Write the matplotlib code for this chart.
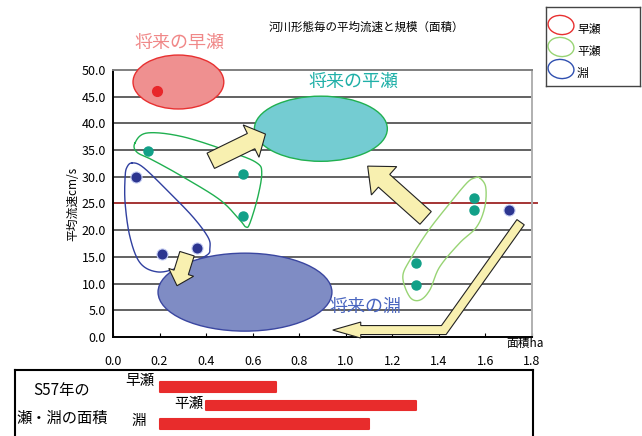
import numpy as np
import matplotlib
matplotlib.use('Agg')
import matplotlib.pyplot as plt
from matplotlib.patches import Ellipse, Polygon

plt.rcParams['font.family'] = ['Noto Sans CJK JP', 'DejaVu Sans']

# measured points: area (ha) vs mean velocity (cm/s)
hayase_x = [0.19]
hayase_y = [46.0]
hirase_x = [0.15, 0.56, 0.56, 1.30, 1.30, 1.55, 1.55]
hirase_y = [34.9, 30.6, 22.7, 13.9, 9.8, 26.0, 23.7]
fuchi_x = [0.10, 0.21, 0.36, 1.70]
fuchi_y = [30.0, 15.5, 16.7, 23.8]

# S57 area ranges (ha)
s57_labels = ['早瀬', '平瀬', '淵']
s57_start = [0.2, 0.4, 0.2]
s57_end = [0.7, 1.3, 1.1]

yticks = [0, 5, 10, 15, 20, 25, 30, 35, 40, 45, 50]
xticks = [0.0, 0.2, 0.4, 0.6, 0.8, 1.0, 1.2, 1.4, 1.6, 1.8]

# future target zones: (x, y, width, height) in data units
future_hayase = (0.281, 47.75, 0.39, 10.1)
future_hirase = (0.893, 39.0, 0.571, 12.2)
future_fuchi = (0.567, 8.4, 0.747, 14.6)

# hand-drawn outlines around the groups
loop_hirase_left = ([0.094, 0.146, 0.300, 0.515, 0.618, 0.639, 0.622, 0.588, 0.571, 0.545, 0.459, 0.300, 0.172, 0.103],
                    [36.3, 38.2, 37.5, 34.5, 32.6, 30.7, 26.2, 21.3, 20.6, 21.9, 25.7, 30.0, 33.1, 34.6])
loop_fuchi = ([0.082, 0.129, 0.232, 0.343, 0.408, 0.416, 0.399, 0.275, 0.189, 0.116, 0.073, 0.052, 0.052, 0.060],
              [32.6, 31.8, 27.5, 22.5, 18.7, 16.7, 15.2, 12.9, 12.2, 13.9, 18.7, 25.1, 30.0, 31.8])
loop_hirase_right = ([1.575, 1.601, 1.597, 1.562, 1.489, 1.403, 1.361, 1.318, 1.275, 1.245, 1.275, 1.348, 1.433, 1.519, 1.554],
                     [29.8, 28.1, 24.3, 20.6, 17.6, 13.1, 8.8, 6.9, 7.5, 11.2, 14.4, 19.5, 24.3, 28.8, 29.8])

# arrows: path in data units, shaft width / head width / head length in px
arrows = [
    ([(0.42, 33.0), (0.655, 38.0)], 17, 36, 16),
    ([(1.343, 22.3), (1.094, 32.0)], 17, 38, 22),
    ([(0.318, 15.6), (0.275, 9.6)], 15, 26, 14),
    ([(1.751, 21.5), (1.421, 1.3), (0.944, 1.3)], 9, 16, 28),
]


def closed_curve(xs, ys, n=20):
    pts = np.column_stack([xs, ys])
    m = len(pts)
    t = np.linspace(0, 1, n, endpoint=False)[:, None]
    out = []
    for i in range(m):
        p0, p1, p2, p3 = pts[(i - 1) % m], pts[i], pts[(i + 1) % m], pts[(i + 2) % m]
        out.append(0.5 * (2 * p1 + (-p0 + p2) * t + (2 * p0 - 5 * p1 + 4 * p2 - p3) * t ** 2
                          + (-p0 + 3 * p1 - 3 * p2 + p3) * t ** 3))
    out = np.vstack(out)
    return np.vstack([out, out[:1]])


def fat_arrow(ax, pts, shaft, head_w, head_l, **kw):
    P = ax.transData.transform(np.array(pts, dtype=float))
    u = P[-1] - P[-2]
    u = u / np.linalg.norm(u)
    base = P[-1] - u * head_l
    line = np.vstack([P[:-1], base])
    normals = []
    for i in range(len(line)):
        segs = []
        if i > 0:
            d = line[i] - line[i - 1]
            segs.append(np.array([-d[1], d[0]]) / np.linalg.norm(d))
        if i < len(line) - 1:
            d = line[i + 1] - line[i]
            segs.append(np.array([-d[1], d[0]]) / np.linalg.norm(d))
        if len(segs) == 2:
            nv = (segs[0] + segs[1]) / (1 + segs[0] @ segs[1])
        else:
            nv = segs[0]
        normals.append(nv)
    normals = np.array(normals)
    left = line + normals * shaft / 2
    right = line - normals * shaft / 2
    nl = np.array([-u[1], u[0]])
    head = [base + nl * head_w / 2, P[-1], base - nl * head_w / 2]
    poly = np.vstack([left, head, right[::-1]])
    poly = ax.transData.inverted().transform(poly)
    ax.add_patch(Polygon(poly, closed=True, clip_on=False, **kw))


fig = plt.figure(figsize=(6.42, 4.36), dpi=100)
ax = fig.add_axes([113 / 642, 99 / 436, 419 / 642, 267 / 436])
ax.set_xlim(0, 1.8)
ax.set_ylim(0, 50)

for y in yticks[1:-1]:
    ax.axhline(y, color='#555555', lw=1.3, zorder=1)
ax.axhline(25, xmax=1.012, color='#a83838', lw=1.4, zorder=2, clip_on=False)

ax.spines['left'].set_color('black')
ax.spines['bottom'].set_color('black')
ax.spines['top'].set_color('#808080')
ax.spines['right'].set_color('#b0b0b0')
for s in ax.spines.values():
    s.set_linewidth(1.4)

ax.set_yticks(yticks)
ax.set_yticklabels([f'{v:.1f}' for v in yticks], fontsize=9)
ax.set_xticks(xticks)
ax.set_xticklabels([f'{v:.1f}' for v in xticks], fontsize=9)
ax.tick_params(axis='x', direction='in', length=3, pad=13)
ax.tick_params(axis='y', direction='in', length=0, pad=5)

ax.set_ylabel('平均流速cm/s', fontsize=8.5, labelpad=2)
ax.text(1.77, -1.2, '面積ha', fontsize=8.5, ha='center', va='center', clip_on=False)

# future zones
for (cx, cy, w, h), fc, ec in [(future_hayase, '#ef9090', '#e83030'),
                               (future_hirase, '#74ccd2', '#20b050'),
                               (future_fuchi, '#7f8cc4', '#3a46a0')]:
    ax.add_patch(Ellipse((cx, cy), w, h, facecolor=fc, edgecolor=ec, lw=1.0,
                         zorder=3, clip_on=False))

ax.text(0.285, 55.0, '将来の早瀬', color='#f08888', fontsize=13, ha='center', va='center', clip_on=False)
ax.text(1.035, 47.7, '将来の平瀬', color='#20b0a8', fontsize=13, ha='center', va='center')
ax.text(1.085, 5.7, '将来の淵', color='#4a66c0', fontsize=13, ha='center', va='center')

# group outlines
for (lx, ly), col in [(loop_hirase_left, '#20b050'), (loop_fuchi, '#3040a0'),
                      (loop_hirase_right, '#98d474')]:
    c = closed_curve(lx, ly)
    ax.plot(c[:, 0], c[:, 1], color=col, lw=1.0, zorder=2.5)

for pts, sw, hw, hl in arrows:
    fat_arrow(ax, pts, sw, hw, hl, facecolor='#f8f0b0', edgecolor='#222222', lw=0.8, zorder=4)

ax.plot(hayase_x, hayase_y, 'o', color='#e8262a', ms=7, zorder=5, clip_on=False)
ax.plot(hirase_x, hirase_y, 'o', color='#12a088', ms=6.5, zorder=5)
ax.plot(fuchi_x, fuchi_y, 'o', color='#2c3590', mec='#c8d0f4', mew=0.8, ms=8, zorder=5)

fig.text(366 / 642, 1 - 27 / 436, '河川形態毎の平均流速と規模（面積）', fontsize=8.3,
         ha='center', va='center')

# legend box
lg = fig.add_axes([546 / 642, 1 - 86 / 436, 94 / 642, 79 / 436])
lg.set_xlim(0, 94)
lg.set_ylim(79, 0)
lg.set_xticks([])
lg.set_yticks([])
for s in lg.spines.values():
    s.set_color('#444444')
    s.set_linewidth(1.0)
for i, (lab, col) in enumerate(zip(['早瀬', '平瀬', '淵'], ['#e83030', '#98d474', '#3050b0'])):
    yc = 18 + i * 22
    lg.add_patch(Ellipse((15, yc), 26, 19, angle=8, fill=False, edgecolor=col, lw=1.0))
    lg.text(31, yc + 4, lab, fontsize=8.5, ha='left', va='center')

# S57 area bars
bx = fig.add_axes([15 / 642, -4 / 436, 518 / 642, 70 / 436])
x0 = (15 - 113) / 233
bx.set_xlim(x0, x0 + 518 / 233)
bx.set_ylim(2.86, -0.92)
bx.set_xticks([])
bx.set_yticks([])
for s in bx.spines.values():
    s.set_color('black')
    s.set_linewidth(1.5)
bx.spines['bottom'].set_visible(False)
ypos = np.arange(len(s57_labels))
bx.barh(ypos, np.array(s57_end) - np.array(s57_start), left=s57_start, height=0.5,
        color='#e82c2c', edgecolor='#e82c2c', lw=1.5, joinstyle='round')
label_shift = [(-4, 4), (-2, 1), (-10, 2)]
for i, lab in enumerate(s57_labels):
    bx.annotate(lab, (s57_start[i], ypos[i]), xytext=label_shift[i], textcoords='offset points',
                fontsize=10.5, ha='right', va='center')
bx.text(47 / 518, 1 - 20 / 70, 'S57年の', transform=bx.transAxes, fontsize=11,
        ha='center', va='center')
bx.text(47 / 518, 1 - 48 / 70, '瀬・淵の面積', transform=bx.transAxes, fontsize=11,
        ha='center', va='center')

fig.savefig('out.png', dpi=100)
